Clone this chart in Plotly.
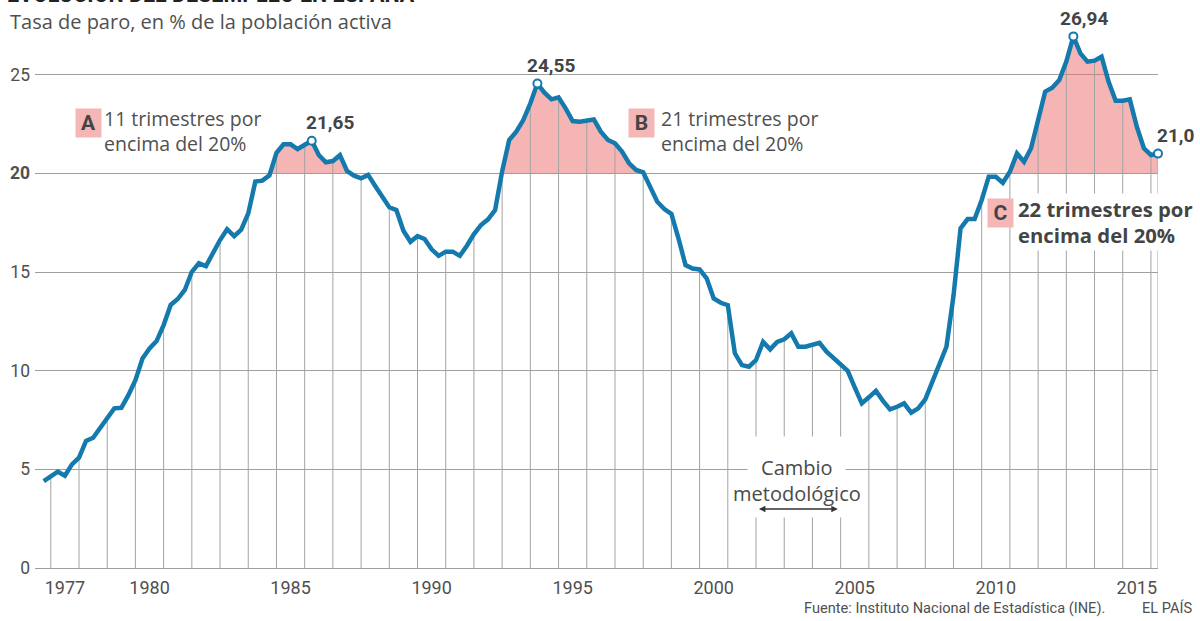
import plotly.graph_objects as go

# ---------------- DATA ----------------
anio_inicio = 1976
trimestre_inicio = 3
# Tasa de paro (% población activa), trimestral desde 1976T3 hasta 2016T1
tasa_paro = [
    4.40, 4.65,                      # 1976 T3-T4
    4.88, 4.68, 5.25, 5.59,          # 1977
    6.44, 6.60, 7.08, 7.58,          # 1978
    8.09, 8.12, 8.76, 9.52,          # 1979
    10.62, 11.13, 11.50, 12.31,      # 1980
    13.33, 13.63, 14.09, 15.01,      # 1981
    15.44, 15.30, 15.98, 16.62,      # 1982
    17.17, 16.82, 17.15, 17.97,      # 1983
    19.58, 19.63, 19.90, 21.04,      # 1984
    21.47, 21.47, 21.23, 21.43,      # 1985
    21.65, 20.93, 20.56, 20.62,      # 1986
    20.92, 20.12, 19.88, 19.75,      # 1987
    19.92, 19.36, 18.81, 18.28,      # 1988
    18.14, 17.09, 16.53, 16.82,      # 1989
    16.67, 16.15, 15.82, 16.03,      # 1990
    16.03, 15.82, 16.33, 16.92,      # 1991
    17.38, 17.67, 18.14, 20.10,      # 1992
    21.69, 22.11, 22.70, 23.55,      # 1993
    24.55, 24.09, 23.75, 23.85,      # 1994
    23.29, 22.65, 22.62, 22.70,      # 1995
    22.73, 22.11, 21.69, 21.52,      # 1996
    21.10, 20.51, 20.17, 20.05,      # 1997
    19.32, 18.56, 18.19, 17.94,      # 1998
    16.71, 15.35, 15.18, 15.13,      # 1999
    14.68, 13.66, 13.44, 13.32,      # 2000
    10.88, 10.28, 10.20, 10.54,      # 2001
    11.46, 11.08, 11.46, 11.59,      # 2002
    11.89, 11.21, 11.21, 11.30,      # 2003
    11.41, 10.96, 10.62, 10.33,      # 2004
    9.99, 9.15, 8.34, 8.65,          # 2005
    8.98, 8.47, 8.04, 8.17,          # 2006
    8.34, 7.87, 8.09, 8.55,          # 2007
    9.49, 10.37, 11.21, 13.79,       # 2008
    17.21, 17.68, 17.68, 18.65,      # 2009
    19.83, 19.83, 19.52, 20.08,      # 2010
    21.01, 20.59, 21.27, 22.70,      # 2011
    24.14, 24.34, 24.73, 25.66,      # 2012
    26.94, 26.08, 25.66, 25.71,      # 2013
    25.91, 24.64, 23.68, 23.68,      # 2014
    23.75, 22.36, 21.27, 20.93,      # 2015
    21.00,                           # 2016 T1
]

anios_etiqueta = [1977, 1980, 1985, 1990, 1995, 2000, 2005, 2010, 2015]
y_ticks = [0, 5, 10, 15, 20, 25]
umbral = 20

picos_trimestre = ["1986T1", "1994T1", "2013T1", "2016T1"]
picos_texto = ["21,65", "24,55", "26,94", "21,0"]
picos_xshift = [18, 14, 11, 17]

periodo_cambio = [2002.05, 2004.9]

# ---------------- DERIVED ----------------
etiquetas = []
xs = []
a, q = anio_inicio, trimestre_inicio
for v in tasa_paro:
    etiquetas.append(f"{a}T{q}")
    xs.append(a + q / 4.0)
    q += 1
    if q > 4:
        q = 1
        a += 1

BLUE = "#1479ad"
PINK_FILL = "rgba(236,108,108,0.5)"
PINK_BOX = "#f5b6b6"
GRID = "#a0a0a0"
DROP = "#a3a3a3"
TXT = "#505050"
FONT = "Roboto"
FONT2 = "Open Sans"

fig = go.Figure()

# pink fill above 20
fx, fy = [], []
for i in range(len(xs)):
    if i > 0:
        y0, y1 = tasa_paro[i - 1], tasa_paro[i]
        if (y0 - umbral) * (y1 - umbral) < 0:
            t = (umbral - y0) / (y1 - y0)
            fx.append(xs[i - 1] + t * (xs[i] - xs[i - 1]))
            fy.append(umbral)
    fx.append(xs[i])
    fy.append(max(tasa_paro[i], umbral))

fig.add_trace(go.Scatter(x=fx, y=[umbral] * len(fx), mode="lines",
                         line=dict(width=0), hoverinfo="skip", showlegend=False))
fig.add_trace(go.Scatter(x=fx, y=fy, mode="lines", line=dict(width=0),
                         fill="tonexty", fillcolor=PINK_FILL,
                         hoverinfo="skip", showlegend=False))

# vertical drop lines at each year boundary (Q4 values) and last point
dx, dy = [], []
for i, (x, v) in enumerate(zip(xs, tasa_paro)):
    if etiquetas[i].endswith("T4") or i == len(xs) - 1:
        dx += [x, x, None]
        dy += [0, v, None]
fig.add_trace(go.Scatter(x=dx, y=dy, mode="lines",
                         line=dict(color=DROP, width=1),
                         hoverinfo="skip", showlegend=False))

# main line
fig.add_trace(go.Scatter(x=xs, y=tasa_paro, mode="lines",
                         line=dict(color=BLUE, width=4.5),
                         showlegend=False))

# peak markers
px_ = [xs[etiquetas.index(t)] for t in picos_trimestre]
py_ = [tasa_paro[etiquetas.index(t)] for t in picos_trimestre]
fig.add_trace(go.Scatter(x=px_, y=py_, mode="markers",
                         marker=dict(size=8, color="white",
                                     line=dict(color=BLUE, width=2)),
                         cliponaxis=False, showlegend=False))

annotations = []
for x, y, txt, xs_ in zip(px_, py_, picos_texto, picos_xshift):
    annotations.append(dict(x=x, y=y, xref="x", yref="y", text=f"<b>{txt}</b>",
                            showarrow=False, xanchor="center", yanchor="middle",
                            xshift=xs_, yshift=18,
                            font=dict(family=FONT, size=19, color="#444444")))


def letter_box(letter, x, y):
    return dict(x=x, y=y, xref="x", yref="y", text=f"<b>{letter}</b>",
                showarrow=False, xanchor="center", yanchor="middle",
                bgcolor=PINK_BOX, borderpad=2, width=21,
                font=dict(family=FONT, size=21, color="#444444"))


def block_text(txt, x, y, size, color, bold=False, bg=None, anchor="left"):
    d = dict(x=x, y=y, xref="x", yref="y",
             text=f"<b>{txt}</b>" if bold else txt,
             showarrow=False, xanchor=anchor, yanchor="middle", align=anchor,
             font=dict(family=FONT2, size=size, color=color))
    if bg:
        d.update(bgcolor=bg, borderpad=1)
    return d


# A / B / C labels
annotations.append(letter_box("A", 1978.32, 22.55))
annotations.append(block_text("11 trimestres por<br>encima del 20%", 1978.82, 22.17, 19.5, TXT))
annotations.append(letter_box("B", 1997.94, 22.55))
annotations.append(block_text("21 trimestres por<br>encima del 20%", 1998.55, 22.17, 19.5, TXT))
annotations.append(letter_box("C", 2010.68, 17.97))
annotations.append(block_text("22 trimestres por<br>encima del 20%", 2011.22, 17.52, 20.3,
                              "#444444", bold=True, bg="white"))

# Cambio metodológico
annotations.append(dict(x=2003.42, y=4.6, xref="x", yref="y", text=" ",
                        showarrow=False, width=97, height=80, bgcolor="white",
                        borderpad=0, xanchor="center", yanchor="middle"))
annotations.append(block_text("Cambio<br>metodológico", 2003.45, 4.45, 20, "#4a4a4a",
                              anchor="center"))
annotations.append(dict(x=periodo_cambio[1], y=2.99, ax=periodo_cambio[0], ay=2.99,
                        xref="x", yref="y", axref="x", ayref="y", text="",
                        showarrow=True, arrowhead=2, arrowside="end+start",
                        arrowsize=1, arrowwidth=1.3, arrowcolor="#333333",
                        standoff=0, startstandoff=0))

# Title (cut at top), subtitle, footer
annotations.append(dict(x=(5 - 35) / 1123, y=1.0195, xref="paper", yref="paper",
                        text="<b>EVOLUCIÓN DEL DESEMPLEO EN ESPAÑA</b>",
                        showarrow=False, xanchor="left", yanchor="bottom",
                        font=dict(family=FONT, size=21.5, color="#222222")))
annotations.append(dict(x=(8 - 35) / 1123, y=0.9964, xref="paper", yref="paper",
                        text="Tasa de paro, en % de la población activa",
                        showarrow=False, xanchor="left", yanchor="middle",
                        font=dict(family=FONT2, size=20, color=TXT)))
annotations.append(dict(x=(802 - 35) / 1123, y=-0.073, xref="paper", yref="paper",
                        text="Fuente: Instituto Nacional de Estadística (INE).",
                        showarrow=False, xanchor="left", yanchor="middle",
                        font=dict(family=FONT, size=14.6, color=TXT)))
annotations.append(dict(x=(1194 - 35) / 1123, y=-0.073, xref="paper", yref="paper",
                        text="EL PAÍS", showarrow=False, xanchor="right", yanchor="middle",
                        font=dict(family=FONT, size=14.6, color=TXT)))

fig.update_layout(
    template="none",
    width=1200, height=621,
    margin=dict(l=35, r=42, t=20, b=53, pad=0),
    paper_bgcolor="white", plot_bgcolor="white",
    font=dict(family=FONT, color=TXT),
    showlegend=False,
    annotations=annotations,
    xaxis=dict(range=[1976.44, 2016.25], showgrid=False, zeroline=False,
               tickvals=[y + 0.5 for y in anios_etiqueta],
               ticktext=[str(y) for y in anios_etiqueta],
               ticks="", showline=True, linecolor=GRID, linewidth=1,
               ticklabelstandoff=3,
               tickfont=dict(family=FONT, size=18, color=TXT),
               automargin=False, fixedrange=True),
    yaxis=dict(range=[0, 27.77], showgrid=True, gridcolor=GRID, gridwidth=1,
               zeroline=False, tickvals=y_ticks,
               ticktext=["<b>20</b>" if v == 20 else str(v) for v in y_ticks],
               ticks="", showline=False, ticklabelstandoff=4,
               tickfont=dict(family=FONT, size=17.5, color=TXT),
               automargin=False, fixedrange=True),
)

fig.write_html("out.html", config={"displayModeBar": False},
               post_script="document.body.style.margin='0px';"
                           "document.body.style.overflow='hidden';")
